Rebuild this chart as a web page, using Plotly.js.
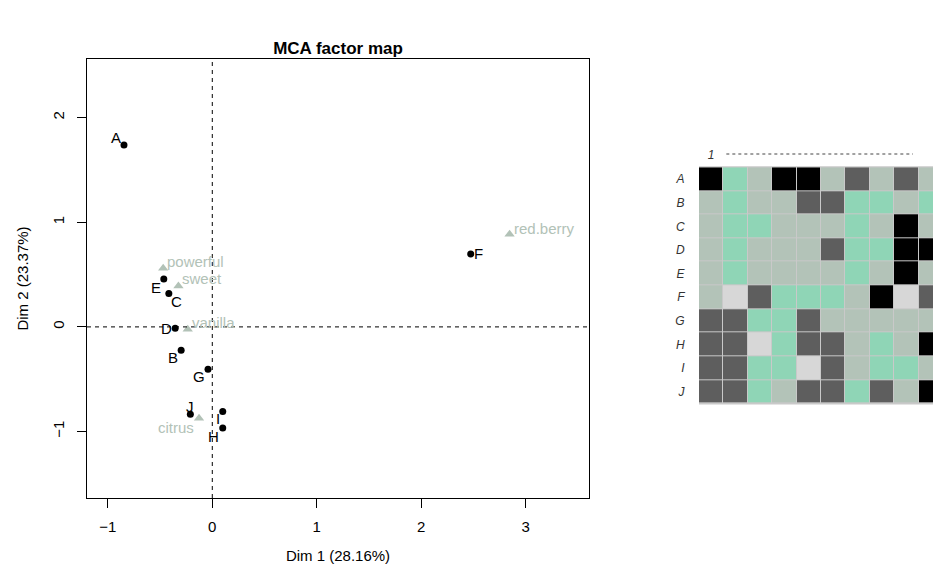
<!DOCTYPE html>
<html>
<head>
<meta charset="utf-8">
<script src="https://cdn.plot.ly/plotly-3.0.1.min.js"></script>
<style>html,body{margin:0;padding:0;background:#fff;}#chart{width:933px;height:577px;}</style>
</head>
<body>
<div id="chart"></div>
<script>
// ---- Data ----
const individuals = ['A','B','C','D','E','F','G','H','I','J'];
const indDim1 = [-0.845, -0.298, -0.416, -0.355, -0.464, 2.473, -0.041, 0.100, 0.100, -0.210];
const indDim2 = [ 1.738, -0.223,  0.318, -0.012,  0.458, 0.697, -0.404, -0.965, -0.809, -0.834];

const categories = ['powerful','sweet','vanilla','citrus','red.berry'];
const catDim1 = [-0.470, -0.324, -0.235, -0.127, 2.845];
const catDim2 = [ 0.560,  0.392, -0.022, -0.872, 0.885];

const xTicks = [-1, 0, 1, 2, 3];
const yTicks = [-1, 0, 1, 2];
const xTitle = 'Dim 1 (28.16%)';
const yTitle = 'Dim 2 (23.37%)';
const chartTitle = 'MCA factor map';

// heatmap: rows = individuals, columns = 1..10, codes 1..5
const heatCols = [1,2,3,4,5,6,7,8,9,10];
const heatRowA = [1,4,3,1,1,3,2,3,2,3];
const heatRowB = [3,4,3,3,2,2,4,4,3,4];
const heatRowC = [3,4,4,3,3,3,4,3,1,3];
const heatRowD = [3,4,3,3,3,2,4,4,1,1];
const heatRowE = [3,4,3,3,3,3,4,3,1,3];
const heatRowF = [3,5,2,4,4,4,3,1,5,2];
const heatRowG = [2,2,4,4,2,3,3,3,3,3];
const heatRowH = [2,2,5,4,2,2,3,4,3,1];
const heatRowI = [2,2,4,4,5,2,3,4,4,3];
const heatRowJ = [2,2,4,3,2,2,4,2,3,1];
const heatColLabels = ['1','10'];

// ---- Styles ----
const W = 933, H = 577;
const FONT = 'Liberation Sans, Arial, sans-serif';
const catColor = '#b2c2b7';
const codeColors = ['#000000','#5e5e5e','#b3c3b8','#8fd5b6','#d7d7d7'];

// label offsets (pixels): [xshift, yshift]
const indLabelShift = {A:[-8,8],B:[-8,-7],C:[8,-8],D:[-9,0],E:[-8,-9],F:[8,0],G:[-9,-7],H:[-9,-9],I:[-5,-7],J:[0,8]};
const catLabelShift = {'powerful':['left',2,7],'sweet':['left',2,7],'vanilla':['left',2,7],'citrus':['right',-3,-9],'red.berry':['left',2,6]};

const heatZ = [heatRowA,heatRowB,heatRowC,heatRowD,heatRowE,heatRowF,heatRowG,heatRowH,heatRowI,heatRowJ];

const traces = [
  {
    type:'scatter', mode:'markers', x:catDim1, y:catDim2, text:categories,
    marker:{symbol:'triangle-up', size:9, color:catColor},
    xaxis:'x', yaxis:'y', hoverinfo:'text', showlegend:false
  },
  {
    type:'scatter', mode:'markers', x:indDim1, y:indDim2, text:individuals,
    marker:{symbol:'circle', size:7, color:'#000'},
    xaxis:'x', yaxis:'y', hoverinfo:'text', showlegend:false
  },
  {
    type:'heatmap', z:heatZ, x:heatCols, y:individuals,
    zmin:1, zmax:5, showscale:false, xgap:1, ygap:1,
    colorscale:[[0,codeColors[0]],[0.25,codeColors[1]],[0.5,codeColors[2]],[0.75,codeColors[3]],[1,codeColors[4]]],
    xaxis:'x2', yaxis:'y2'
  }
];

const annotations = [];
individuals.forEach((lab,i)=>{
  const s = indLabelShift[lab];
  annotations.push({x:indDim1[i], y:indDim2[i], xref:'x', yref:'y', text:lab, showarrow:false,
    xshift:s[0], yshift:s[1], font:{family:FONT, size:15, color:'#000'}});
});
categories.forEach((lab,i)=>{
  const s = catLabelShift[lab];
  annotations.push({x:catDim1[i], y:catDim2[i], xref:'x', yref:'y', text:lab, showarrow:false,
    xanchor:s[0], xshift:s[1], yshift:s[2], font:{family:FONT, size:15, color:catColor}});
});

const hx0 = 699/W, hy0 = (H-403.5)/H, hy1 = (H-167.3)/H;

const layout = {
  width:W, height:H,
  margin:{l:0,r:0,t:0,b:0},
  paper_bgcolor:'#fff', plot_bgcolor:'#fff',
  font:{family:FONT, size:14, color:'#000'},
  title:{text:'<b>'+chartTitle+'</b>', x:338/W, y:1-48/H, xanchor:'center', yanchor:'middle',
    font:{family:FONT, size:17, color:'#000'}},
  xaxis:{
    domain:[87/W, 589/W], range:[-1.199, 3.605],
    tickvals:xTicks, ticks:'outside', ticklen:9, tickcolor:'#000', tickwidth:1,
    ticklabelstandoff:6,
    showline:true, mirror:true, linecolor:'#000', linewidth:1,
    showgrid:false, zeroline:false,
    tickfont:{family:FONT, size:15, color:'#000'},
    title:{text:xTitle, standoff:16, font:{family:FONT, size:15, color:'#000'}}
  },
  yaxis:{
    domain:[(H-498)/H, (H-59)/H], range:[-1.635, 2.56],
    tickvals:yTicks, ticks:'outside', ticklen:9, tickcolor:'#000', tickwidth:1, tickangle:-90,
    ticklabelstandoff:7,
    showline:true, mirror:true, linecolor:'#000', linewidth:1,
    showgrid:false, zeroline:false,
    tickfont:{family:FONT, size:15, color:'#000'},
    title:{text:yTitle, standoff:17, font:{family:FONT, size:15, color:'#000'}}
  },
  xaxis2:{
    domain:[hx0, 1], range:[0.5, 10.09], anchor:'y2', side:'top',
    tickvals:[1,10], ticktext:heatColLabels, ticks:'outside', ticklen:3, tickcolor:'rgba(0,0,0,0)',
    tickfont:{family:FONT, size:12, color:'#333', style:'italic'},
    showgrid:false, zeroline:false, showline:false
  },
  yaxis2:{
    domain:[hy0, hy1], anchor:'x2', type:'category', range:[9.5,-0.5],
    ticks:'outside', ticklen:11, tickcolor:'rgba(0,0,0,0)',
    tickfont:{family:FONT, size:12, color:'#333', style:'italic'},
    showgrid:false, zeroline:false, showline:false
  },
  shapes:[
    {type:'line', xref:'x', yref:'y domain', x0:0, x1:0, y0:0, y1:1, line:{color:'#000', width:1, dash:'4px,4px'}},
    {type:'line', xref:'x domain', yref:'y', x0:0, x1:1, y0:0, y1:0, line:{color:'#000', width:1, dash:'4px,4px'}},
    {type:'rect', xref:'x2', yref:'y2 domain', x0:0.46, x1:10.6, y0:-0.004, y1:1.004, layer:'below',
      fillcolor:'#c9c9c9', line:{width:0}},
    {type:'line', xref:'x2', yref:'paper', x0:1.62, x1:9.27, y0:1-154/H, y1:1-154/H,
      line:{color:'#444', width:1, dash:'dot'}}
  ],
  annotations:annotations
};

Plotly.newPlot('chart', traces, layout, {staticPlot:true, displayModeBar:false});
</script>
</body>
</html>
